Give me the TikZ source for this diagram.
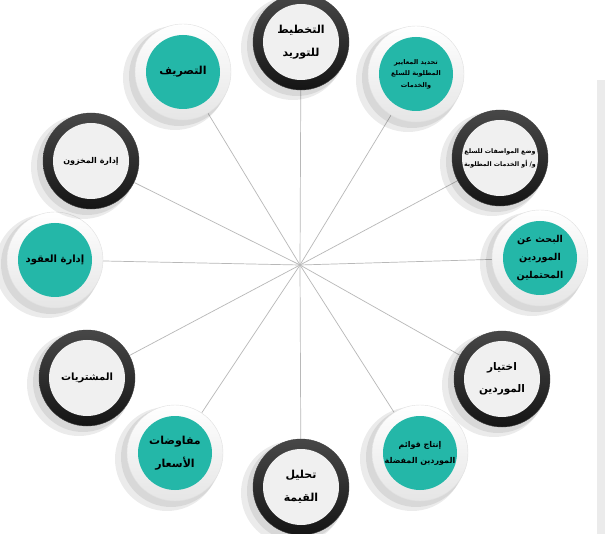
\documentclass[tikz,border=0pt]{standalone}
\usepackage{fontspec}
\TeXXeTstate=1
\newfontfamily\arabicfont[Script=Arabic]{DejaVu Sans}
\usetikzlibrary{backgrounds}
\definecolor{tealfill}{RGB}{36,183,168}
\definecolor{innergray}{RGB}{240,240,240}
\newcommand\arline[1]{\beginR #1\endR}
\tikzset{
  outerdark/.style={circle, minimum size=96pt, inner sep=0pt, top color=black!72, bottom color=black!92, draw=black!75, line width=0.4pt},
  outerlight/.style={circle, minimum size=96pt, inner sep=0pt, top color=white, bottom color=black!10, draw=black!12, line width=0.4pt},
  innerdark/.style={circle, minimum size=76pt, inner sep=0pt, fill=innergray},
  innerlight/.style={circle, minimum size=74pt, inner sep=0pt, fill=tealfill},
  lbl/.style={align=center, text=black, inner sep=0pt},
  spoke/.style={draw=black!28, line width=0.7pt},
  softshadow/.style={fill=black, opacity=0.08}
}
\newcommand\ringitem[6]{%
  \fill[softshadow] (#2-8,#3+6) circle[radius=52pt];
  \fill[softshadow] (#2-4,#3+4) circle[radius=50pt];
  \node[outer#4] (#1) at (#2,#3) {};
  \node[inner#4] (#1in) at (#1) {};
  \node[lbl, font=\arabicfont\bfseries\fontsize{#5pt}{\dimexpr #5pt*7/4\relax}\selectfont] (#1t) at (#1) {#6};
}
\begin{document}
\begin{tikzpicture}[x=1pt, y=-1pt]
\useasboundingbox (0,0) rectangle (605,534);
\coordinate (c) at (300,265);
\ringitem{n1}{301}{42}{dark}{11}{\arline{التخطيط}\\[4pt]\arline{للتوريد}}
\ringitem{n2}{416}{74}{light}{6.5}{\arline{تحديد المعايير}\\\arline{المطلوبة للسلع}\\\arline{والخدمات}}
\ringitem{n3}{500}{158}{dark}{6.3}{\arline{وضع المواصفات للسلع}\\[2pt]\arline{و/ أو الخدمات المطلوبة}}
\ringitem{n4}{540}{258}{light}{9.5}{\arline{البحث عن}\\[1pt]\arline{الموردين}\\[1pt]\arline{المحتملين}}
\ringitem{n5}{502}{379}{dark}{10.5}{\arline{اختيار}\\[4pt]\arline{الموردين}}
\ringitem{n6}{420}{453}{light}{8}{\arline{إنتاج قوائم}\\[2pt]\arline{الموردين المفضلة}}
\ringitem{n7}{301}{487}{dark}{11}{\arline{تحليل}\\[4pt]\arline{القيمة}}
\ringitem{n8}{175}{453}{light}{11}{\arline{مفاوضات}\\[4pt]\arline{الأسعار}}
\ringitem{n9}{87}{378}{dark}{10}{\arline{المشتريات}}
\ringitem{n10}{55}{260}{light}{10}{\arline{إدارة العقود}}
\ringitem{n11}{91}{161}{dark}{8}{\arline{إدارة المخزون}}
\ringitem{n12}{183}{72}{light}{11}{\arline{التصريف}}
\begin{scope}[on background layer]
\fill[white] (0,0) rectangle (605,534);
\fill[black!8] (597,80) rectangle (605,534);
\foreach \n in {n1,n2,n3,n4,n5,n6,n7,n8,n9,n10,n11,n12}
  \draw[spoke] (c) -- (\n);
\end{scope}
\end{tikzpicture}
\end{document}
